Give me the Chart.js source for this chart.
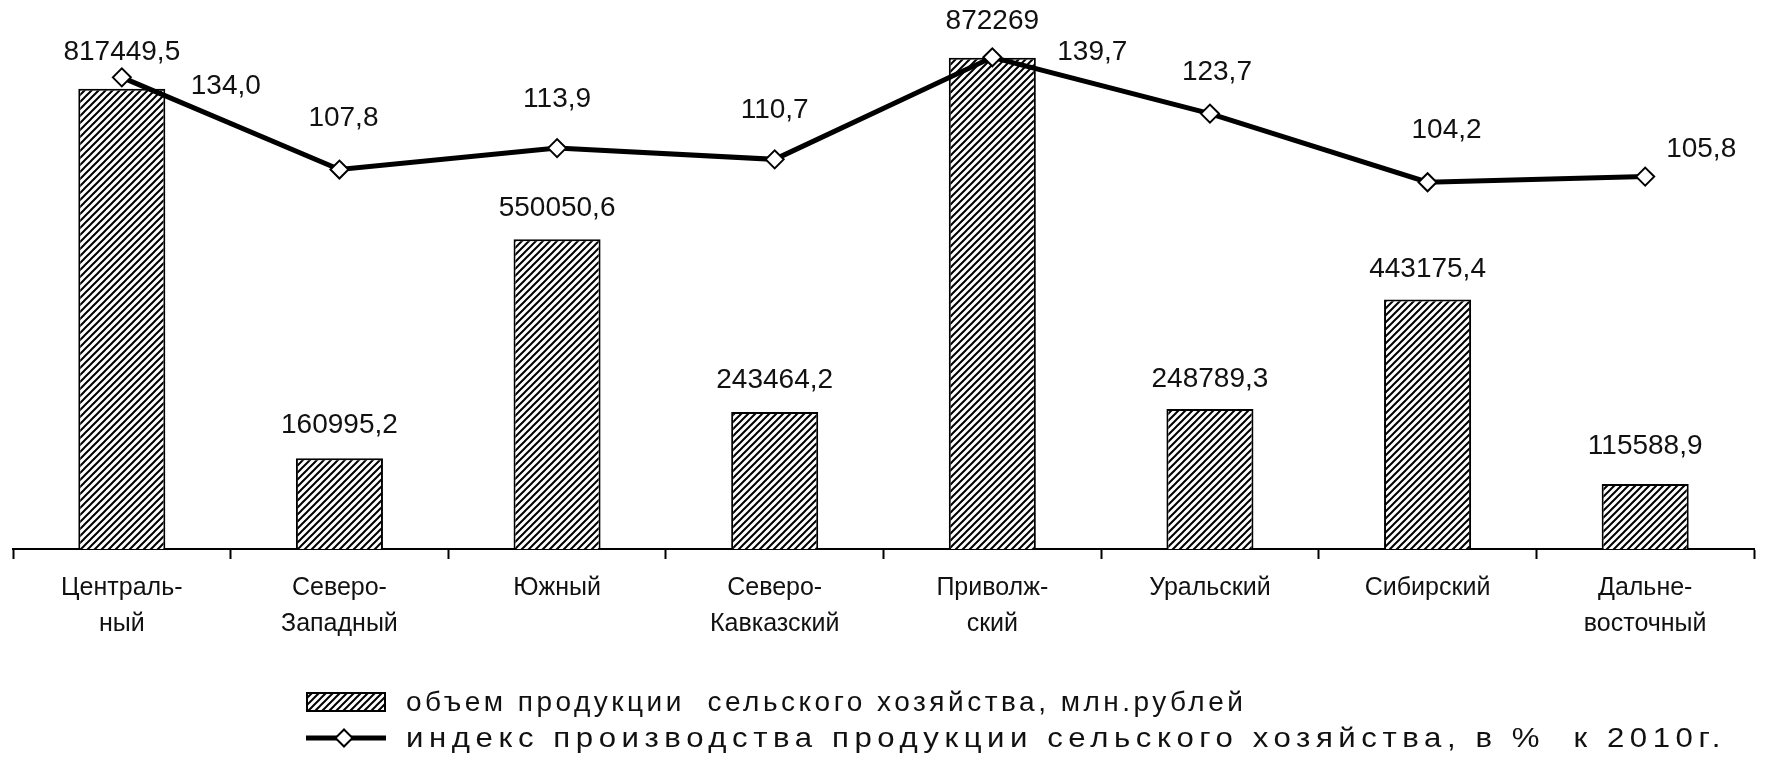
<!DOCTYPE html>
<html>
<head>
<meta charset="utf-8">
<script src="https://cdn.jsdelivr.net/npm/chart.js@4"></script>
<style>
    html, body { margin: 0; padding: 0; background: #fff; }
    #wrap { position: relative; width: 1765px; height: 767px; }
    #legend {
        position: absolute; left: 306px; top: 684px;
        font-family: "Liberation Sans", Arial, sans-serif; font-size: 28px;
        color: #111;
    }
    .row { display: flex; align-items: center; height: 36px; }
    .row canvas, .row svg { margin-right: 20px; flex: none; }
    .row span { white-space: pre; display: inline-block; transform-origin: left center; }
    #lbl0 { letter-spacing: 3.5px; }
    #lbl1 { letter-spacing: 5px; transform: scaleX(1.113); }
</style>
</head>
<body>
<div id="wrap">
    <canvas id="chart" width="1765" height="767"></canvas>
    <div id="legend">
        <div class="row"><canvas id="swatch" width="80" height="20"></canvas><span id="lbl0"></span></div>
        <div class="row"><svg width="80" height="20"><line x1="0" y1="10" x2="80" y2="10" stroke="#000" stroke-width="5"/><rect x="32" y="4" width="12" height="12" transform="rotate(45 38 10)" fill="#fff" stroke="#000" stroke-width="2"/></svg><span id="lbl1"></span></div>
    </div>
</div>
<script>
const regions = [
    ["Централь-", "ный"], ["Северо-", "Западный"], ["Южный"], ["Северо-", "Кавказский"],
    ["Приволж-", "ский"], ["Уральский"], ["Сибирский"], ["Дальне-", "восточный"]
];
const volume = [817449.5, 160995.2, 550050.6, 243464.2, 872269, 248789.3, 443175.4, 115588.9];
const index2010 = [134.0, 107.8, 113.9, 110.7, 139.7, 123.7, 104.2, 105.8];
const seriesNames = [
    "объем продукции  сельского хозяйства, млн.рублей",
    "индекс производства продукции сельского хозяйства, в %  к 2010г."
];

// label placement (px): volume labels above bar tops, index labels relative to markers
const volumeLabelGap = [36, 33, 31, 32, 36, 30, 30, 38];
const indexLabelOffsets = [[104, 9], [4, -51], [0, -49], [0, -49], [100, -5], [7, -41], [19, -52], [56, -27]];

function makeHatch(size) {
    const c = document.createElement('canvas');
    c.width = size; c.height = size;
    const g = c.getContext('2d');
    g.fillStyle = '#fff';
    g.fillRect(0, 0, size, size);
    g.strokeStyle = '#000';
    g.lineWidth = 2;
    g.beginPath();
    g.moveTo(0, size); g.lineTo(size, 0);
    g.moveTo(-1, 1); g.lineTo(1, -1);
    g.moveTo(size - 1, size + 1); g.lineTo(size + 1, size - 1);
    g.stroke();
    return c;
}

const hatchCanvas = makeHatch(7);
const ctx = document.getElementById('chart').getContext('2d');
const hatch = ctx.createPattern(hatchCanvas, 'repeat');

function fmt(v, keepDecimal) {
    if (!keepDecimal && Number.isInteger(v)) return String(v);
    return v.toFixed(1).replace('.', ',');
}

const valueLabels = {
    id: 'valueLabels',
    afterDatasetsDraw(chart) {
        const c = chart.ctx;
        c.save();
        c.font = '28px "Liberation Sans", Arial, sans-serif';
        c.fillStyle = '#111';
        c.textAlign = 'center';
        c.textBaseline = 'middle';
        chart.getDatasetMeta(1).data.forEach((bar, i) => {
            c.fillText(fmt(volume[i], false), bar.x, bar.y - volumeLabelGap[i]);
        });
        chart.getDatasetMeta(0).data.forEach((pt, i) => {
            const [dx, dy] = indexLabelOffsets[i];
            c.fillText(fmt(index2010[i], true), pt.x + dx, pt.y + dy);
        });
        c.restore();
    }
};

new Chart(ctx, {
    type: 'bar',
    data: {
        labels: regions,
        datasets: [
            {
                type: 'line',
                label: seriesNames[1],
                data: index2010,
                yAxisID: 'y1',
                borderColor: '#000',
                borderWidth: 5,
                pointStyle: 'rectRot',
                pointRadius: 9,
                pointBackgroundColor: '#fff',
                pointBorderColor: '#000',
                pointBorderWidth: 2,
                order: 0
            },
            {
                label: seriesNames[0],
                data: volume,
                yAxisID: 'y',
                backgroundColor: hatch,
                borderColor: '#000',
                borderWidth: 2,
                barPercentage: 0.4,
                categoryPercentage: 1,
                order: 1
            }
        ]
    },
    options: {
        responsive: false,
        animation: false,
        layout: { padding: { left: 13, right: 7, top: 14, bottom: 114 } },
        plugins: { legend: { display: false }, tooltip: { enabled: false } },
        scales: {
            x: {
                grid: { drawOnChartArea: false, tickLength: 10, tickWidth: 2, tickColor: '#000', offset: true },
                border: { color: '#000', width: 2 },
                ticks: {
                    color: '#111',
                    padding: 11,
                    maxRotation: 0,
                    autoSkip: false,
                    font: { family: '"Liberation Sans", Arial, sans-serif', size: 25, lineHeight: 1.44 }
                }
            },
            y: { display: false, min: 0, max: 950000 },
            y1: { display: false, min: 0, max: 152 }
        }
    },
    plugins: [valueLabels]
});

// legend
const sw = document.getElementById('swatch').getContext('2d');
sw.fillStyle = sw.createPattern(hatchCanvas, 'repeat');
sw.fillRect(0, 0, 80, 20);
sw.strokeStyle = '#000';
sw.lineWidth = 2;
sw.strokeRect(1, 1, 78, 18);
document.getElementById('lbl0').textContent = seriesNames[0];
document.getElementById('lbl1').textContent = seriesNames[1];
</script>
</body>
</html>
